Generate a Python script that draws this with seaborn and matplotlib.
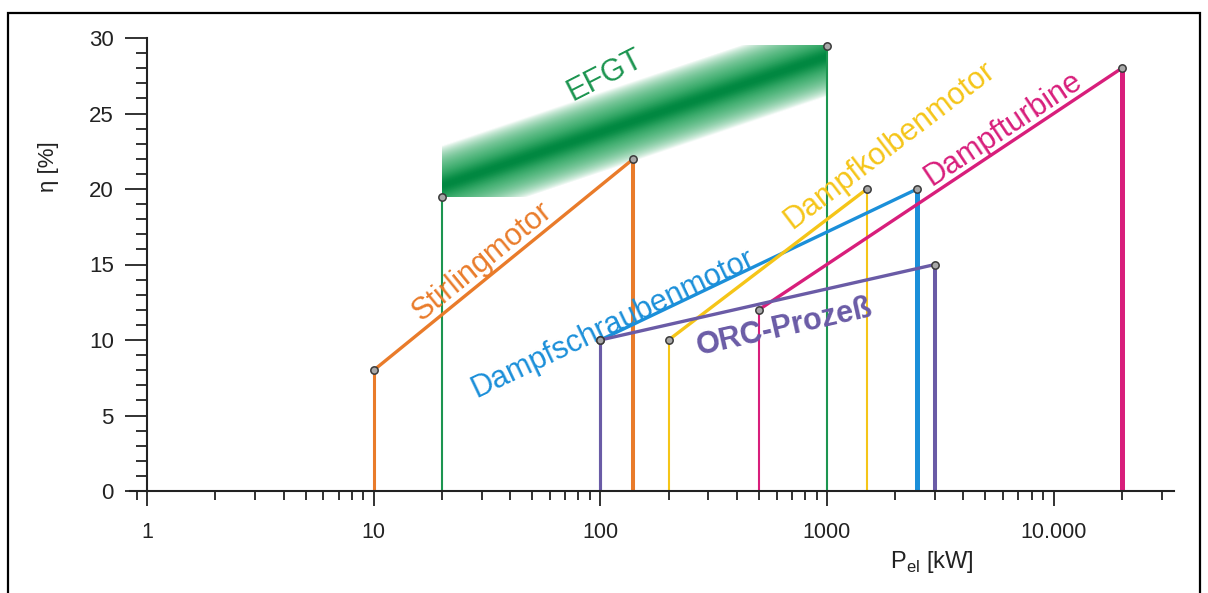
import numpy as np
import pandas as pd
import seaborn as sns
import matplotlib.pyplot as plt
import matplotlib.colors as mcolors
from matplotlib.patches import Rectangle
from matplotlib.ticker import LogLocator, FixedLocator, FixedFormatter, MultipleLocator, NullFormatter


# Wirkungsgradbereiche: (P links, eta links) -> (P rechts, eta rechts)
techs = ["Stirlingmotor", "EFGT", "Dampfschraubenmotor", "Dampfkolbenmotor", "Dampfturbine", "ORC-Prozeß"]
p_left = [10, 20, 100, 200, 500, 100]
p_right = [140, 1000, 2500, 1500, 20000, 3000]
eta_left = [8, 19.5, 10, 10, 12, 10]
eta_right = [22, 29.5, 20, 20, 28, 15]

# Position der Beschriftungen (Mitte des Textes)
label_p = [30, 105, 114, 1900, 6000, 650]
label_eta = [15.2, 27.5, 11.1, 22.9, 24.0, 10.8]

x_ticks = [1, 10, 100, 1000, 10000]
x_ticklabels = ["1", "10", "100", "1000", "10.000"]
y_ticks = [0, 5, 10, 15, 20, 25, 30]

colors = {
    "Stirlingmotor": "#E97B2A",
    "EFGT": "#1C9550",
    "Dampfschraubenmotor": "#1B8FD9",
    "Dampfkolbenmotor": "#F5C518",
    "Dampfturbine": "#D81E7B",
    "ORC-Prozeß": "#6A5BA6",
}
vline_width = {
    "Stirlingmotor": (2.2, 2.9),
    "EFGT": (1.5, 1.5),
    "Dampfschraubenmotor": (2.2, 3.6),
    "Dampfkolbenmotor": (1.5, 1.5),
    "Dampfturbine": (1.5, 3.6),
    "ORC-Prozeß": (2.2, 2.9),
}


def line_angle(ax, x0, y0, x1, y1):
    (a, b), (c, d) = ax.transData.transform([(x0, y0), (x1, y1)])
    return np.degrees(np.arctan2(d - b, c - a))


def draw_band(ax, x0, x1, y0, y1, light, dark):
    # diagonal gradient band, built in pixel space and placed in axes coords
    (px0, py0), (px1, py1) = ax.transData.transform([(x0, y0), (x1, y1)])
    w, h = px1 - px0, py1 - py0
    gx, gy = np.meshgrid(np.linspace(0, w, int(w)), np.linspace(0, h, int(h)))
    d = gy - (11 + gx * (h - 22) / w)
    core = np.exp(-(d / 11) ** 2)[..., None]
    rgba = np.zeros(gx.shape + (4,))
    rgba[..., :3] = (1 - core) * np.array(mcolors.to_rgb(light)) + core * np.array(mcolors.to_rgb(dark))
    rgba[..., 3] = np.clip(1 - (np.abs(d) / 40) ** 2, 0, 1) ** 0.8
    (ax0, ay0), (ax1, ay1) = ax.transAxes.inverted().transform([(px0, py0), (px1, py1)])
    ax.imshow(rgba, origin="lower", extent=[ax0, ax1, ay0, ay1], transform=ax.transAxes,
              aspect="auto", interpolation="bilinear", zorder=1)


sns.set_theme(style="white")
plt.rcParams["font.family"] = ["Liberation Sans", "DejaVu Sans"]
plt.rcParams["mathtext.fontset"] = "custom"
plt.rcParams["mathtext.rm"] = "Liberation Sans"

fig = plt.figure(figsize=(12.08, 5.93), dpi=100)
ax = fig.add_axes([130 / 1208, 102 / 593, 1044 / 1208, 453 / 593])
ax.set_xscale("log")
ax.set_xlim(0.84, 34000)
ax.set_ylim(0, 30)

# EFGT band
i = techs.index("EFGT")
draw_band(ax, p_left[i], p_right[i], eta_left[i], eta_right[i], "#2EA862", "#008840")

# vertical lines
for k, t in enumerate(techs):
    wl, wr = vline_width[t]
    ax.vlines(p_left[k], 0, eta_left[k], color=colors[t], linewidth=wl, zorder=2)
    ax.vlines(p_right[k], 0, eta_right[k], color=colors[t], linewidth=wr, zorder=2)

# diagonal lines (EFGT shown as band only)
rows = []
for k, t in enumerate(techs):
    if t == "EFGT":
        continue
    rows.append({"tech": t, "P": p_left[k], "eta": eta_left[k]})
    rows.append({"tech": t, "P": p_right[k], "eta": eta_right[k]})
df_diag = pd.DataFrame(rows)
sns.lineplot(data=df_diag, x="P", y="eta", hue="tech", palette=colors, estimator=None,
             sort=False, legend=False, linewidth=2.4, ax=ax, zorder=3)

# end points
df_pts = pd.DataFrame({"P": p_left + p_right, "eta": eta_left + eta_right})
sns.scatterplot(data=df_pts, x="P", y="eta", color="#a8a8a8", edgecolor="#3a3a3a",
                s=28, linewidth=1.1, ax=ax, zorder=5)

# labels along the lines
for k, t in enumerate(techs):
    if t == "EFGT":
        rot = 27
    else:
        rot = line_angle(ax, p_left[k], eta_left[k], p_right[k], eta_right[k])
    ax.text(label_p[k], label_eta[k], t, color=colors[t], fontsize=22, rotation=rot,
            rotation_mode="anchor", ha="center", va="center", zorder=4,
            fontweight="bold" if t == "ORC-Prozeß" else "normal")

# axes styling
sns.despine(ax=ax)
ax.spines["left"].set_position(("data", 1))
for s in ["left", "bottom"]:
    ax.spines[s].set_color("#222222")
    ax.spines[s].set_linewidth(1.5)

ax.xaxis.set_major_locator(FixedLocator(x_ticks))
ax.xaxis.set_major_formatter(FixedFormatter(x_ticklabels))
ax.xaxis.set_minor_locator(LogLocator(base=10, subs=np.arange(2, 10), numticks=20))
ax.xaxis.set_minor_formatter(NullFormatter())
ax.yaxis.set_major_locator(FixedLocator(y_ticks))
ax.yaxis.set_minor_locator(MultipleLocator(1))

ax.tick_params(axis="x", which="major", direction="out", length=11, width=1.3, pad=11,
               labelsize=15.5, colors="#222222", bottom=True)
ax.tick_params(axis="x", which="minor", direction="out", length=6.5, width=1.3, bottom=True,
               colors="#222222")
ax.tick_params(axis="y", which="major", direction="out", length=16, width=1.3, pad=8,
               labelsize=16, colors="#222222", left=True)
ax.tick_params(axis="y", which="minor", direction="out", length=8, width=1.3, left=True,
               colors="#222222")

ax.set_ylabel("η [%]", fontsize=16, color="#222222")
ax.yaxis.set_label_coords(-0.068, 0.715)
ax.set_xlabel("P$_{\\mathrm{el}}$ [kW]", fontsize=17, color="#222222")
ax.xaxis.set_label_coords(0.768, -0.128)

# frame around the picture
fig.add_artist(Rectangle((8 / 1208, -0.02), 1192 / 1208, 1 - 13 / 593 + 0.02,
                         transform=fig.transFigure, fill=False, edgecolor="black",
                         linewidth=1.6, clip_on=False))

fig.savefig("out.png", dpi=100)
